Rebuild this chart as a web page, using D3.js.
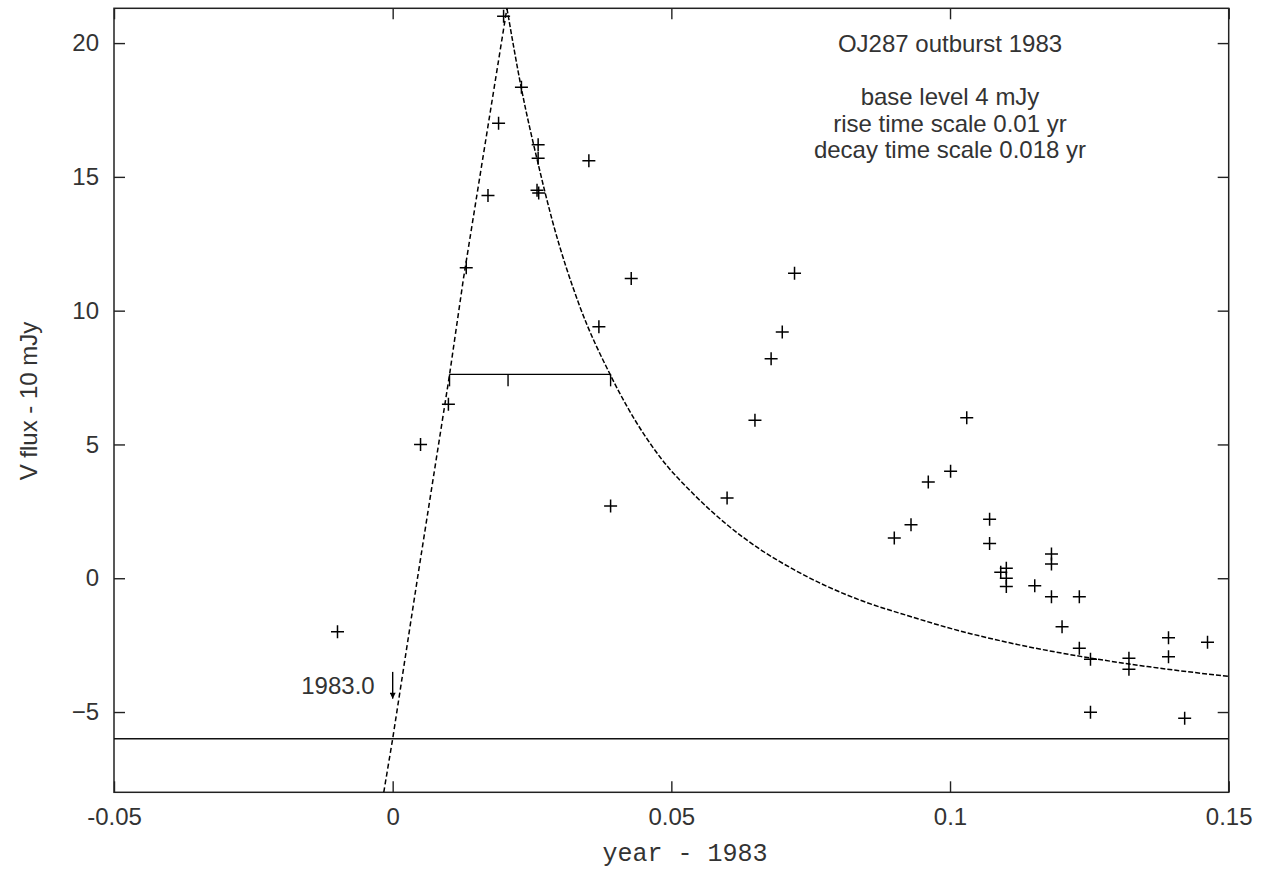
<!DOCTYPE html>
<html lang="en">
<head>
<meta charset="UTF-8"/>
<title>OJ287 outburst 1983</title>
<script src="https://d3js.org/d3.v7.min.js"></script>
<style>
  body { margin: 0; background: #fff; }
  text { font-family: "Liberation Sans", Arial, sans-serif; fill: #333; }
</style>
</head>
<body>
<script>
var w = 1262;
var h = 873;
var margin = { top: 8.3, right: 33.3, bottom: 80.7, left: 114 };

// observed points (year - 1983, V flux - 10 mJy)
var obsT = [-0.0099, 0.0050, 0.0100, 0.0132, 0.0171, 0.0190, 0.0199, 0.0231, 0.0261, 0.0261,
            0.0259, 0.0262, 0.0352, 0.0370, 0.0391, 0.0428, 0.0600, 0.0650, 0.0679, 0.0699,
            0.0721, 0.0900, 0.0930, 0.0961, 0.1001, 0.1030, 0.1071, 0.1071, 0.1091, 0.1101,
            0.1101, 0.1101, 0.1152, 0.1182, 0.1182, 0.1182, 0.1201, 0.1232, 0.1232, 0.1252,
            0.1252, 0.1321, 0.1321, 0.1392, 0.1392, 0.1462, 0.1421];
var obsV = [-2.0, 5.0, 6.5, 11.6, 14.3, 17.0, 21.0, 18.35, 16.2, 15.7,
            14.5, 14.4, 15.6, 9.4, 2.7, 11.2, 3.0, 5.9, 8.2, 9.2,
            11.4, 1.5, 2.0, 3.6, 4.0, 6.0, 2.2, 1.3, 0.22, 0.37,
            0.0, -0.31, -0.28, 0.91, 0.53, -0.69, -1.81, -0.69, -2.62, -3.03,
            -5.01, -2.99, -3.40, -2.22, -2.93, -2.39, -5.23];

// model curve: rise part and decay part
var riseT = [-0.0016, 0.0, 0.0046, 0.0102, 0.0127, 0.0205];
var riseV = [-8.0, -6.0, 0.2, 7.6, 11.2, 21.3];
var decayT = [0.0205, 0.0231, 0.0262, 0.0286, 0.0335, 0.0391, 0.0421, 0.048, 0.054, 0.060,
              0.066, 0.072, 0.078, 0.0839, 0.0929, 0.0995, 0.1115, 0.1234, 0.1354, 0.150];
var decayV = [21.3, 18.3, 15.4, 13.4, 10.2, 7.58, 6.4, 4.52, 3.14, 2.0,
              1.07, 0.32, -0.31, -0.82, -1.43, -1.84, -2.45, -2.92, -3.3, -3.67];

var baseLevel = -6;                 // 4 mJy - 10
var halfMaxT = [0.0102, 0.0391];    // half maximum bar
var halfMaxV = 7.62;
var halfMaxTicks = [0.0102, 0.0207, 0.0391];
var arrowT = 0;                     // 1983.0 marker
var arrowV = [-3.5, -4.5];

var xTicks = [-0.05, 0, 0.05, 0.1, 0.15];
var xTickLabels = ["-0.05", "0", "0.05", "0.1", "0.15"];
var yTicks = [-5, 0, 5, 10, 15, 20];
var notes = ["OJ287 outburst 1983", "", "base level 4 mJy", "rise time scale 0.01 yr", "decay time scale 0.018 yr"];

var x = d3.scaleLinear().domain([-0.05, 0.15]).range([margin.left, w - margin.right]);
var y = d3.scaleLinear().domain([-8, 21.3]).range([h - margin.bottom, margin.top]);

var svg = d3.select("body").append("svg")
    .attr("width", w)
    .attr("height", h);

svg.append("clipPath").attr("id", "clip")
    .append("rect")
    .attr("x", x(-0.05)).attr("y", y(21.3))
    .attr("width", x(0.15) - x(-0.05)).attr("height", y(-8) - y(21.3));

// axes with inside ticks on all four sides
svg.append("g")
    .attr("transform", "translate(0," + y(-8) + ")")
    .call(d3.axisBottom(x).tickValues(xTicks).tickSize(-11).tickPadding(16)
        .tickFormat(function (d, i) { return xTickLabels[i]; }))
    .call(function (g) { g.select(".domain").remove(); });
svg.append("g")
    .attr("transform", "translate(0," + y(21.3) + ")")
    .call(d3.axisTop(x).tickValues(xTicks).tickSize(-11).tickFormat(""))
    .call(function (g) { g.select(".domain").remove(); });
svg.append("g")
    .attr("transform", "translate(" + x(-0.05) + ",0)")
    .call(d3.axisLeft(y).tickValues(yTicks).tickSize(-11).tickPadding(15))
    .call(function (g) { g.select(".domain").remove(); });
svg.append("g")
    .attr("transform", "translate(" + x(0.15) + ",0)")
    .call(d3.axisRight(y).tickValues(yTicks).tickSize(-11).tickFormat(""))
    .call(function (g) { g.select(".domain").remove(); });

svg.selectAll(".tick line").attr("stroke", "#222").attr("stroke-width", 1.4);
svg.selectAll(".tick text")
    .attr("font-size", "24px")
    .attr("font-family", "Liberation Sans, Arial, sans-serif")
    .attr("fill", "#333");

// frame
svg.append("rect")
    .attr("x", x(-0.05)).attr("y", y(21.3))
    .attr("width", x(0.15) - x(-0.05)).attr("height", y(-8) - y(21.3))
    .attr("fill", "none").attr("stroke", "#222").attr("stroke-width", 1.5);

var plot = svg.append("g").attr("clip-path", "url(#clip)");

// base level line
plot.append("line")
    .attr("x1", x(-0.05)).attr("x2", x(0.15))
    .attr("y1", y(baseLevel)).attr("y2", y(baseLevel))
    .attr("stroke", "#111").attr("stroke-width", 1.4);

// model curve (dashed)
var riseLine = d3.line()
    .x(function (d, i) { return x(riseT[i]); })
    .y(function (d) { return y(d); });
var decayLine = d3.line()
    .x(function (d, i) { return x(decayT[i]); })
    .y(function (d) { return y(d); })
    .curve(d3.curveMonotoneX);

plot.append("path").attr("d", riseLine(riseV))
    .attr("fill", "none").attr("stroke", "#000").attr("stroke-width", 1.5)
    .attr("stroke-dasharray", "5,3");
plot.append("path").attr("d", decayLine(decayV))
    .attr("fill", "none").attr("stroke", "#000").attr("stroke-width", 1.5)
    .attr("stroke-dasharray", "5,2");

// half maximum bar
plot.append("line")
    .attr("x1", x(halfMaxT[0])).attr("x2", x(halfMaxT[1]))
    .attr("y1", y(halfMaxV)).attr("y2", y(halfMaxV))
    .attr("stroke", "#000").attr("stroke-width", 1.4);
plot.selectAll(".hmtick")
    .data(halfMaxTicks)
    .enter()
    .append("line")
    .attr("class", "hmtick")
    .attr("x1", function (d) { return x(d); })
    .attr("x2", function (d) { return x(d); })
    .attr("y1", y(halfMaxV))
    .attr("y2", y(halfMaxV) + 12)
    .attr("stroke", "#000").attr("stroke-width", 1.4);

// data points as plus signs
plot.selectAll(".pt")
    .data(obsV)
    .enter()
    .append("path")
    .attr("class", "pt")
    .attr("transform", function (d, i) { return "translate(" + x(obsT[i]) + "," + y(d) + ")"; })
    .attr("d", "M-6.5,0H6.5M0,-6.5V6.5")
    .attr("stroke", "#000").attr("stroke-width", 1.5).attr("fill", "none");

// 1983.0 arrow
svg.append("defs").append("marker")
    .attr("id", "arrow")
    .attr("viewBox", "0 0 10 10")
    .attr("refX", 10).attr("refY", 5)
    .attr("markerWidth", 7).attr("markerHeight", 6)
    .attr("markerUnits", "userSpaceOnUse")
    .attr("orient", "auto")
    .append("path").attr("d", "M0,0L10,5L0,10Z").attr("fill", "#000");
plot.append("line")
    .attr("x1", x(arrowT)).attr("x2", x(arrowT))
    .attr("y1", y(arrowV[0])).attr("y2", y(arrowV[1]))
    .attr("stroke", "#000").attr("stroke-width", 1.4)
    .attr("marker-end", "url(#arrow)");
svg.append("text")
    .attr("x", x(arrowT) - 18)
    .attr("y", y(-4.0))
    .attr("dy", "0.35em")
    .attr("text-anchor", "end")
    .attr("font-size", "24px")
    .text("1983.0");

// annotation text
svg.selectAll(".note")
    .data(notes)
    .enter()
    .append("text")
    .attr("class", "note")
    .attr("x", 950)
    .attr("y", function (d, i) { return 52 + i * 26.6; })
    .attr("text-anchor", "middle")
    .attr("font-size", "24px")
    .text(function (d) { return d; });

// axis titles
svg.append("text")
    .attr("x", 685)
    .attr("y", 861)
    .attr("text-anchor", "middle")
    .attr("font-size", "25px")
    .style("font-family", "Liberation Mono, Courier New, monospace")
    .text("year - 1983");

svg.append("text")
    .attr("transform", "translate(37,401) rotate(-90)")
    .attr("text-anchor", "middle")
    .attr("font-size", "24px")
    .text("V flux - 10 mJy");
</script>
</body>
</html>
